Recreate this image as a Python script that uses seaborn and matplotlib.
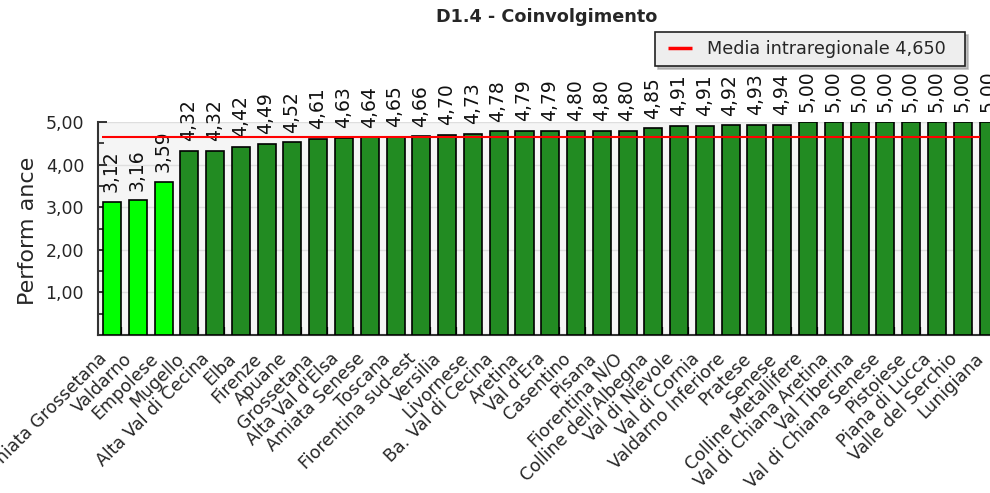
import matplotlib
matplotlib.use('Agg')
import matplotlib.pyplot as plt
import matplotlib.transforms as mtransforms
from matplotlib.lines import Line2D
from matplotlib.ticker import FixedLocator, FuncFormatter
import seaborn as sns
import pandas as pd

categories = [
    "Amiata Grossetana", "Valdarno", "Empolese", "Mugello", "Alta Val di Cecina",
    "Elba", "Firenze", "Apuane", "Grossetana", "Alta Val d'Elsa", "Amiata Senese",
    "Toscana", "Fiorentina sud-est", "Versilia", "Livornese", "Ba. Val di Cecina",
    "Aretina", "Val d'Era", "Casentino", "Pisana", "Fiorentina N/O",
    "Colline dell'Albegna", "Val di Nievole", "Val di Cornia", "Valdarno Inferiore",
    "Pratese", "Senese", "Colline Metallifere", "Val di Chiana Aretina",
    "Val Tiberina", "Val di Chiana Senese", "Pistoiese", "Piana di Lucca",
    "Valle del Serchio", "Lunigiana",
]
values = [
    3.12, 3.16, 3.59, 4.32, 4.32, 4.42, 4.49, 4.52, 4.61, 4.63, 4.64, 4.65,
    4.66, 4.70, 4.73, 4.78, 4.79, 4.79, 4.80, 4.80, 4.80, 4.85, 4.91, 4.91,
    4.92, 4.93, 4.94, 5.00, 5.00, 5.00, 5.00, 5.00, 5.00, 5.00, 5.00,
]
bar_colors = ["#00ff00"] * 3 + ["#228b22"] * 32
mean_value = 4.65
mean_label = "Media intraregionale 4,650"
title_text = "D1.4 - Coinvolgimento"
y_label = "Perform ance"
y_ticks = [1, 2, 3, 4, 5]
y_minor = [0.5, 1.5, 2.5, 3.5, 4.5]

sns.set_theme(style="white")
plt.rcParams["font.family"] = ["DejaVu Sans"]

fig = plt.figure(figsize=(9.9, 4.93), dpi=100)
fig.patch.set_facecolor("white")
ax = fig.add_axes([98 / 990, 158 / 493, 906 / 990, 213 / 493])
ax.set_facecolor("#f5f5f5")

df = pd.DataFrame({"cat": categories, "val": values})
sns.barplot(data=df, x="cat", y="val", hue="cat", palette=bar_colors,
            legend=False, width=0.7, edgecolor="black", linewidth=1.2,
            saturation=1, ax=ax, zorder=3)

ax.set_xlim(-0.543, 34.6)
ax.set_ylim(0, 5)

# grid
ax.yaxis.set_major_locator(FixedLocator(y_ticks))
ax.yaxis.set_minor_locator(FixedLocator(y_minor))
ax.yaxis.set_major_formatter(FuncFormatter(lambda v, p: f"{v:.2f}".replace(".", ",")))
ax.grid(axis="y", color="#dedede", linewidth=1, zorder=0)
ax.set_axisbelow(True)

# mean line
ax.hlines(mean_value, -0.4, 33.65, color="red", linewidth=1.5, zorder=5)

# value labels
for i, v in enumerate(values):
    ax.annotate(f"{v:.2f}".replace(".", ","), (i, v), xytext=(-0.5, 7),
                textcoords="offset points", rotation=90, ha="center", va="bottom",
                fontsize=13.5, color="#111111")

# spines
for s in ["top", "right"]:
    ax.spines[s].set_visible(False)
for s in ["left", "bottom"]:
    ax.spines[s].set_color("#333333")
    ax.spines[s].set_linewidth(1.5)

ax.tick_params(axis="y", which="major", direction="in", length=6.5, width=1.3,
               color="#222222", labelsize=12.5, pad=10, left=True)
ax.tick_params(axis="y", which="minor", direction="in", length=4, width=1.2,
               color="#222222", left=True)

# x tick labels
ax.set_xlabel("")
ax.set_xticks(range(len(categories)))
ax.set_xticks([i + 0.33 for i in range(len(categories))], minor=True)
ax.tick_params(axis="x", which="major", length=0, pad=0, labelsize=12.5)
ax.tick_params(axis="x", which="minor", direction="in", length=6, width=1.6,
               color="black", bottom=True)
ax.set_xticklabels(categories, rotation=45, ha="right", va="center",
                   rotation_mode="anchor")
offset = mtransforms.ScaledTranslation(-8 / 100, -21 / 100, fig.dpi_scale_trans)
for lab in ax.get_xticklabels():
    lab.set_transform(lab.get_transform() + offset)

ax.set_ylabel(y_label, fontsize=16)
ax.yaxis.set_label_coords(-0.066, 0.49)

fig.text(547 / 990, 1 - 17 / 493, title_text, ha="center", va="center",
         fontsize=12.7, fontweight="bold")

proxy = Line2D([], [], color="red", marker="_", markersize=17,
               markeredgewidth=2.5, linestyle="none")
leg = ax.legend(handles=[proxy], labels=[mean_label], loc="upper left",
                bbox_to_anchor=(655 / 990, 1 - 65 / 493, 310 / 990, 33 / 493),
                bbox_transform=fig.transFigure, mode="expand", borderaxespad=0,
                fontsize=12.7, handlelength=1.9, handletextpad=0.57,
                borderpad=0.45, frameon=True, fancybox=False,
                shadow={"color": "#9a9a9a", "alpha": 0.6},
                framealpha=1)
leg.get_frame().set_facecolor("#eeeeee")
leg.get_frame().set_edgecolor("#222222")
leg.get_frame().set_linewidth(1.2)

fig.savefig("out.png", dpi=100)
